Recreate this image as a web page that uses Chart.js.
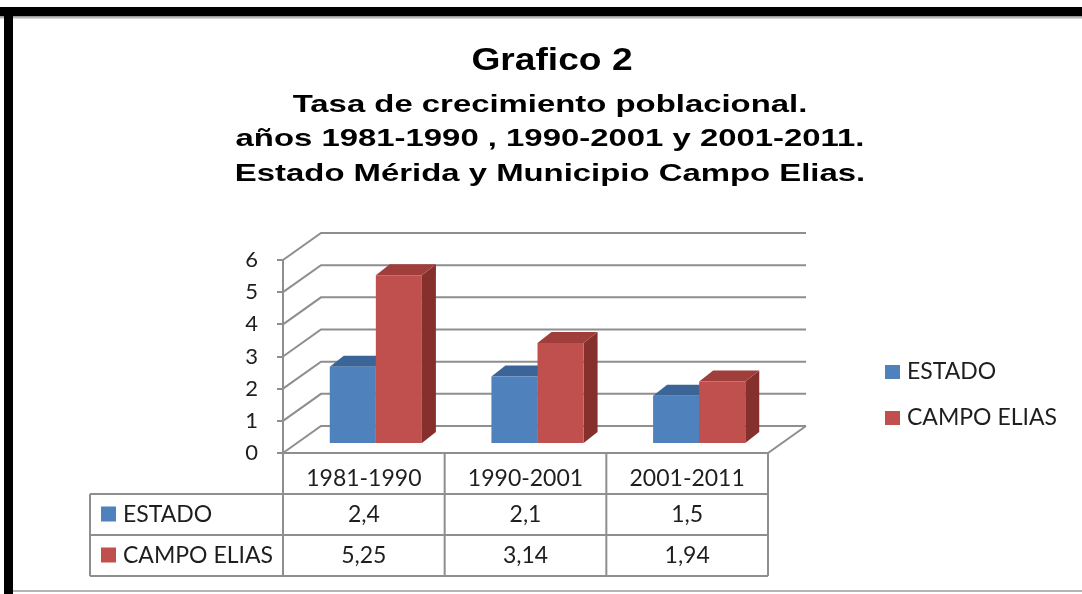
<!DOCTYPE html>
<html><head><meta charset="utf-8">
<script src="https://cdn.jsdelivr.net/npm/chart.js@4.4.1/dist/chart.umd.min.js"></script>
<style>
html,body{margin:0;padding:0;background:#fff;}
#wrap{position:relative;width:1082px;height:594px;overflow:hidden;background:#fff;}
#wrap canvas{position:absolute;left:0;top:0;}
.fr{position:absolute;}
</style></head><body>
<div id="wrap">
<canvas id="c" width="1082" height="594"></canvas>
<div class="fr" style="left:0;top:7px;width:1082px;height:9px;background:#000"></div>
<div class="fr" style="left:0;top:16px;width:1082px;height:3px;background:linear-gradient(#8a8a8a,#e6e6e6)"></div>
<div class="fr" style="left:4px;top:7px;width:9px;height:587px;background:#000"></div>
<div class="fr" style="left:13px;top:590px;width:1069px;height:2px;background:#b4b4b4"></div>
</div>
<script>
// ---- data ----
const categories = ['1981-1990', '1990-2001', '2001-2011'];
const seriesNames = ['ESTADO', 'CAMPO ELIAS'];
const estado = [2.4, 2.1, 1.5];
const campoElias = [5.25, 3.14, 1.94];
const yTickValues = [0, 1, 2, 3, 4, 5, 6];
const titleText = 'Grafico 2';
const subtitleLines = [
  'Tasa de crecimiento poblacional.',
  'años 1981-1990 , 1990-2001 y 2001-2011.',
  'Estado Mérida y Municipio Campo Elias.'
];

// ---- styles ----
const frontColors = ['#4f81bd', '#c0504d'];
const topColors = ['#3c6597', '#9f3e3b'];
const sideColors = ['#385d8a', '#86302d'];
const gridColor = '#8e8e8e';
const textColor = '#1e1e1e';
const calibri = 'Lato, "Open Sans", sans-serif';
const arial = '"Liberation Sans", Arial, sans-serif';

const WALL = {dx: 38, dy: -27};
const BAR_SHIFT = {dx: 12, dy: -9};
const BAR_DEPTH = {dx: 14, dy: -11};

function fmt(v) { return String(v).replace('.', ','); }

const wallsPlugin = {
  id: 'walls',
  beforeDatasetsDraw(chart) {
    const ctx = chart.ctx, y = chart.scales.y, x = chart.scales.x;
    const L = x.left, R = x.right;
    ctx.save();
    ctx.strokeStyle = gridColor;
    ctx.lineWidth = 2;
    yTickValues.forEach(v => {
      const yp = y.getPixelForValue(v);
      ctx.beginPath();
      ctx.moveTo(L, yp);
      ctx.lineTo(L + WALL.dx, yp + WALL.dy);
      ctx.lineTo(R + WALL.dx, yp + WALL.dy);
      ctx.stroke();
    });
    const y0 = y.getPixelForValue(0);
    ctx.beginPath();
    ctx.moveTo(L, y0);
    ctx.lineTo(R, y0);
    ctx.lineTo(R + WALL.dx, y0 + WALL.dy);
    ctx.stroke();
    ctx.restore();
  },
  // draw the bars ourselves (in series order) so nearer faces overlap correctly
  beforeDatasetDraw() { return false; },
  afterDatasetsDraw(chart) {
    const ctx = chart.ctx;
    ctx.save();
    ctx.translate(BAR_SHIFT.dx, BAR_SHIFT.dy);
    const metas = chart.getSortedVisibleDatasetMetas().slice().sort((a, b) => a.index - b.index);
    const nCat = categories.length;
    for (let c = 0; c < nCat; c++) {
      metas.forEach(meta => {
        const i = meta.index;
        const el = meta.data[c];
        const p = el.getProps(['x', 'y', 'base', 'width'], true);
        const x0 = p.x - p.width / 2, x1 = p.x + p.width / 2;
        const yt = p.y, yb = p.base;
        ctx.fillStyle = sideColors[i];
        ctx.beginPath();
        ctx.moveTo(x1, yt);
        ctx.lineTo(x1 + BAR_DEPTH.dx, yt + BAR_DEPTH.dy);
        ctx.lineTo(x1 + BAR_DEPTH.dx, yb + BAR_DEPTH.dy);
        ctx.lineTo(x1, yb);
        ctx.closePath();
        ctx.fill();
        ctx.fillStyle = topColors[i];
        ctx.beginPath();
        ctx.moveTo(x0, yt);
        ctx.lineTo(x1, yt);
        ctx.lineTo(x1 + BAR_DEPTH.dx, yt + BAR_DEPTH.dy);
        ctx.lineTo(x0 + BAR_DEPTH.dx, yt + BAR_DEPTH.dy);
        ctx.closePath();
        ctx.fill();
        el.draw(ctx);
      });
    }
    ctx.restore();
  }
};

const tablePlugin = {
  id: 'dataTable',
  afterDraw(chart) {
    const ctx = chart.ctx, x = chart.scales.x, y = chart.scales.y;
    const top = y.getPixelForValue(0);
    const rowH = 41;
    const tableLeft = 90;
    const rows = [top, top + rowH, top + 2 * rowH, top + 3 * rowH];
    const edges = [];
    for (let i = 0; i <= categories.length; i++) edges.push(x.getPixelForValue(i - 0.5));
    ctx.save();
    ctx.strokeStyle = gridColor;
    ctx.lineWidth = 2;
    ctx.beginPath();
    for (let r = 1; r < rows.length; r++) {
      ctx.moveTo(tableLeft, rows[r]);
      ctx.lineTo(edges[edges.length - 1], rows[r]);
    }
    ctx.moveTo(tableLeft, rows[1]);
    ctx.lineTo(tableLeft, rows[3]);
    edges.forEach(e => { ctx.moveTo(e, top); ctx.lineTo(e, rows[3]); });
    ctx.stroke();

    const series = [estado, campoElias];
    ctx.font = '23px ' + calibri;
    ctx.textBaseline = 'middle';
    series.forEach((vals, s) => {
      const cy = (rows[s + 1] + rows[s + 2]) / 2;
      ctx.fillStyle = frontColors[s];
      ctx.fillRect(101, cy - 8, 15, 15);
      ctx.fillStyle = textColor;
      ctx.textAlign = 'left';
      ctx.fillText(seriesNames[s], 123, cy);
      ctx.textAlign = 'center';
      vals.forEach((v, i) => {
        ctx.fillText(fmt(v), (edges[i] + edges[i + 1]) / 2, cy);
      });
    });

    // legend (right)
    const legendY = [372, 418];
    seriesNames.forEach((n, s) => {
      ctx.fillStyle = frontColors[s];
      ctx.fillRect(885, legendY[s] - 7, 15, 14);
      ctx.fillStyle = textColor;
      ctx.textAlign = 'left';
      ctx.font = '23px ' + calibri;
      ctx.fillText(n, 907, legendY[s]);
    });

    // titles
    ctx.fillStyle = '#000';
    ctx.textAlign = 'center';
    ctx.textBaseline = 'alphabetic';
    ctx.save();
    ctx.translate(552, 70);
    ctx.scale(1.18, 1);
    ctx.font = 'bold 31.5px ' + arial;
    ctx.fillText(titleText, 0, 0);
    ctx.restore();
    const base = [111.5, 146, 180.5];
    subtitleLines.forEach((t, i) => {
      ctx.save();
      ctx.translate(550, base[i]);
      ctx.scale(1.37, 1);
      ctx.font = 'bold 24px ' + arial;
      ctx.fillText(t, 0, 0);
      ctx.restore();
    });
    ctx.restore();
  }
};

new Chart(document.getElementById('c'), {
  type: 'bar',
  data: {
    labels: categories,
    datasets: [
      {label: seriesNames[0], data: estado, backgroundColor: frontColors[0], borderWidth: 0},
      {label: seriesNames[1], data: campoElias, backgroundColor: frontColors[1], borderWidth: 0}
    ]
  },
  options: {
    responsive: false,
    animation: false,
    events: [],
    layout: {padding: {left: 0, top: 260, right: 314, bottom: 0}},
    datasets: {bar: {barPercentage: 1, categoryPercentage: 0.57}},
    plugins: {legend: {display: false}, title: {display: false}, tooltip: {enabled: false}},
    scales: {
      x: {
        offset: true,
        grid: {display: false},
        border: {display: false},
        ticks: {color: textColor, font: {family: calibri, size: 23}, padding: 4, maxRotation: 0},
        afterFit(s) { s.height = 594 - 453; }
      },
      y: {
        min: 0, max: 6,
        afterBuildTicks(s) { s.ticks = yTickValues.map(v => ({value: v})); },
        grid: {drawOnChartArea: false, drawTicks: true, tickLength: 6, color: gridColor, lineWidth: 2},
        border: {display: true, color: gridColor, width: 2},
        ticks: {color: textColor, font: {family: calibri, size: 22}, padding: 19},
        afterFit(s) { s.width = 283; }
      }
    }
  },
  plugins: [wallsPlugin, tablePlugin]
});
</script>
</body></html>
